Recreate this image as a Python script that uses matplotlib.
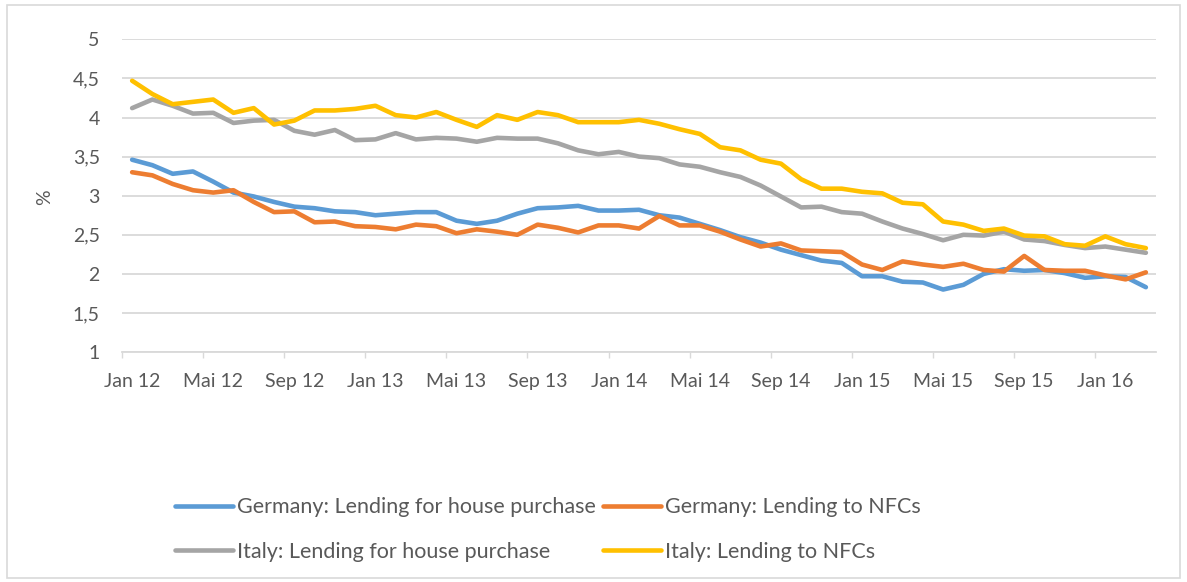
import matplotlib
matplotlib.use("Agg")
import matplotlib.pyplot as plt
from matplotlib.patches import Rectangle

months = ["Jan", "Feb", "Mrz", "Apr", "Mai", "Jun", "Jul", "Aug", "Sep", "Okt", "Nov", "Dez"]
categories = [f"{months[i % 12]} {12 + i // 12}" for i in range(51)]  # Jan 12 .. Mrz 16

germany_house = [3.46, 3.39, 3.28, 3.31, 3.18, 3.04, 2.99, 2.92, 2.86, 2.84, 2.80, 2.79, 2.75,
                 2.77, 2.79, 2.79, 2.68, 2.64, 2.68, 2.77, 2.84, 2.85, 2.87, 2.81, 2.81, 2.82,
                 2.75, 2.72, 2.64, 2.56, 2.47, 2.40, 2.31, 2.24, 2.17, 2.14, 1.97, 1.97, 1.90,
                 1.89, 1.80, 1.86, 2.00, 2.06, 2.04, 2.05, 2.01, 1.95, 1.97, 1.96, 1.83]
germany_nfc = [3.30, 3.26, 3.15, 3.07, 3.04, 3.07, 2.92, 2.79, 2.80, 2.66, 2.67, 2.61, 2.60,
               2.57, 2.63, 2.61, 2.52, 2.57, 2.54, 2.50, 2.63, 2.59, 2.53, 2.62, 2.62, 2.58,
               2.74, 2.62, 2.62, 2.54, 2.44, 2.35, 2.39, 2.30, 2.29, 2.28, 2.12, 2.05, 2.16,
               2.12, 2.09, 2.13, 2.05, 2.03, 2.23, 2.05, 2.04, 2.04, 1.98, 1.93, 2.02]
italy_house = [4.12, 4.23, 4.15, 4.05, 4.06, 3.93, 3.96, 3.97, 3.83, 3.78, 3.84, 3.71, 3.72,
               3.80, 3.72, 3.74, 3.73, 3.69, 3.74, 3.73, 3.73, 3.67, 3.58, 3.53, 3.56, 3.50,
               3.48, 3.40, 3.37, 3.30, 3.24, 3.13, 2.99, 2.85, 2.86, 2.79, 2.77, 2.67, 2.58,
               2.51, 2.43, 2.50, 2.49, 2.54, 2.44, 2.42, 2.37, 2.33, 2.35, 2.31, 2.27]
italy_nfc = [4.47, 4.30, 4.17, 4.20, 4.23, 4.06, 4.12, 3.91, 3.96, 4.09, 4.09, 4.11, 4.15,
             4.03, 4.00, 4.07, 3.97, 3.88, 4.03, 3.97, 4.07, 4.03, 3.94, 3.94, 3.94, 3.97,
             3.92, 3.85, 3.79, 3.62, 3.58, 3.46, 3.41, 3.21, 3.09, 3.09, 3.05, 3.03, 2.91,
             2.89, 2.67, 2.63, 2.55, 2.58, 2.49, 2.48, 2.38, 2.36, 2.48, 2.38, 2.33]

series_names = ["Germany: Lending for house purchase", "Germany: Lending to NFCs",
                "Italy: Lending for house purchase", "Italy: Lending to NFCs"]
series_values = [germany_house, germany_nfc, italy_house, italy_nfc]
colors = ["#5B9BD5", "#ED7D31", "#A5A5A5", "#FFC000"]
yticks = [1, 1.5, 2, 2.5, 3, 3.5, 4, 4.5, 5]

plt.rcParams['font.family'] = ['Lato', 'DejaVu Sans']
text_color = "#595959"
grid_color = "#D9D9D9"

fig = plt.figure(figsize=(11.87, 5.82), dpi=100)
W, H = 1187, 582
left, right, top, bottom = 122, 1156, 39.3, 352.1
ax = fig.add_axes([left / W, 1 - bottom / H, (right - left) / W, (bottom - top) / H])

x = list(range(len(categories)))
handles = []
for name, vals, c in zip(series_names, series_values, colors):
    h, = ax.plot(x, vals, color=c, lw=3.3, solid_joinstyle='round', solid_capstyle='round',
                 label=name, zorder=3)
    handles.append(h)

ax.set_xlim(-0.5, len(categories) - 0.5)
ax.set_ylim(1, 5)
ax.set_yticks(yticks)
ax.set_yticklabels([f"{v:g}".replace(".", ",") for v in yticks])
ax.yaxis.grid(True, color=grid_color, lw=1.3, zorder=0)
ax.set_axisbelow(True)

major = list(range(0, len(categories), 4))
ax.set_xticks(major)
ax.set_xticklabels([categories[i] for i in major])
ax.set_xticks([i - 0.5 for i in major], minor=True)
ax.tick_params(axis='x', which='major', length=0, pad=15, labelsize=14, colors=text_color)
ax.tick_params(axis='x', which='minor', length=4.5, width=1, color=grid_color)
ax.tick_params(axis='y', length=0, pad=16, labelsize=14, colors=text_color)

for s in ['top', 'right', 'left']:
    ax.spines[s].set_visible(False)
ax.spines['bottom'].set_color(grid_color)
ax.spines['bottom'].set_linewidth(1.3)

fig.text(45 / W, 1 - 197 / H, "%", rotation=90, ha='center', va='center',
         fontsize=14, color=text_color)

order = [0, 2, 1, 3]
leg = fig.legend([handles[i] for i in order], [series_names[i] for i in order],
                 ncol=2, loc='center', bbox_to_anchor=(548 / W, 1 - 529.5 / H),
                 frameon=False, fontsize=15.5, handlelength=2.7, handletextpad=0.2,
                 columnspacing=0.3, labelspacing=1.15, borderpad=0)
for t in leg.get_texts():
    t.set_color(text_color)

fig.patches.append(Rectangle((7 / W, 4 / H), (1180 - 7) / W, (577 - 4) / H,
                             transform=fig.transFigure, fill=False,
                             edgecolor=grid_color, lw=1.2))

fig.savefig("out.png", dpi=100)
